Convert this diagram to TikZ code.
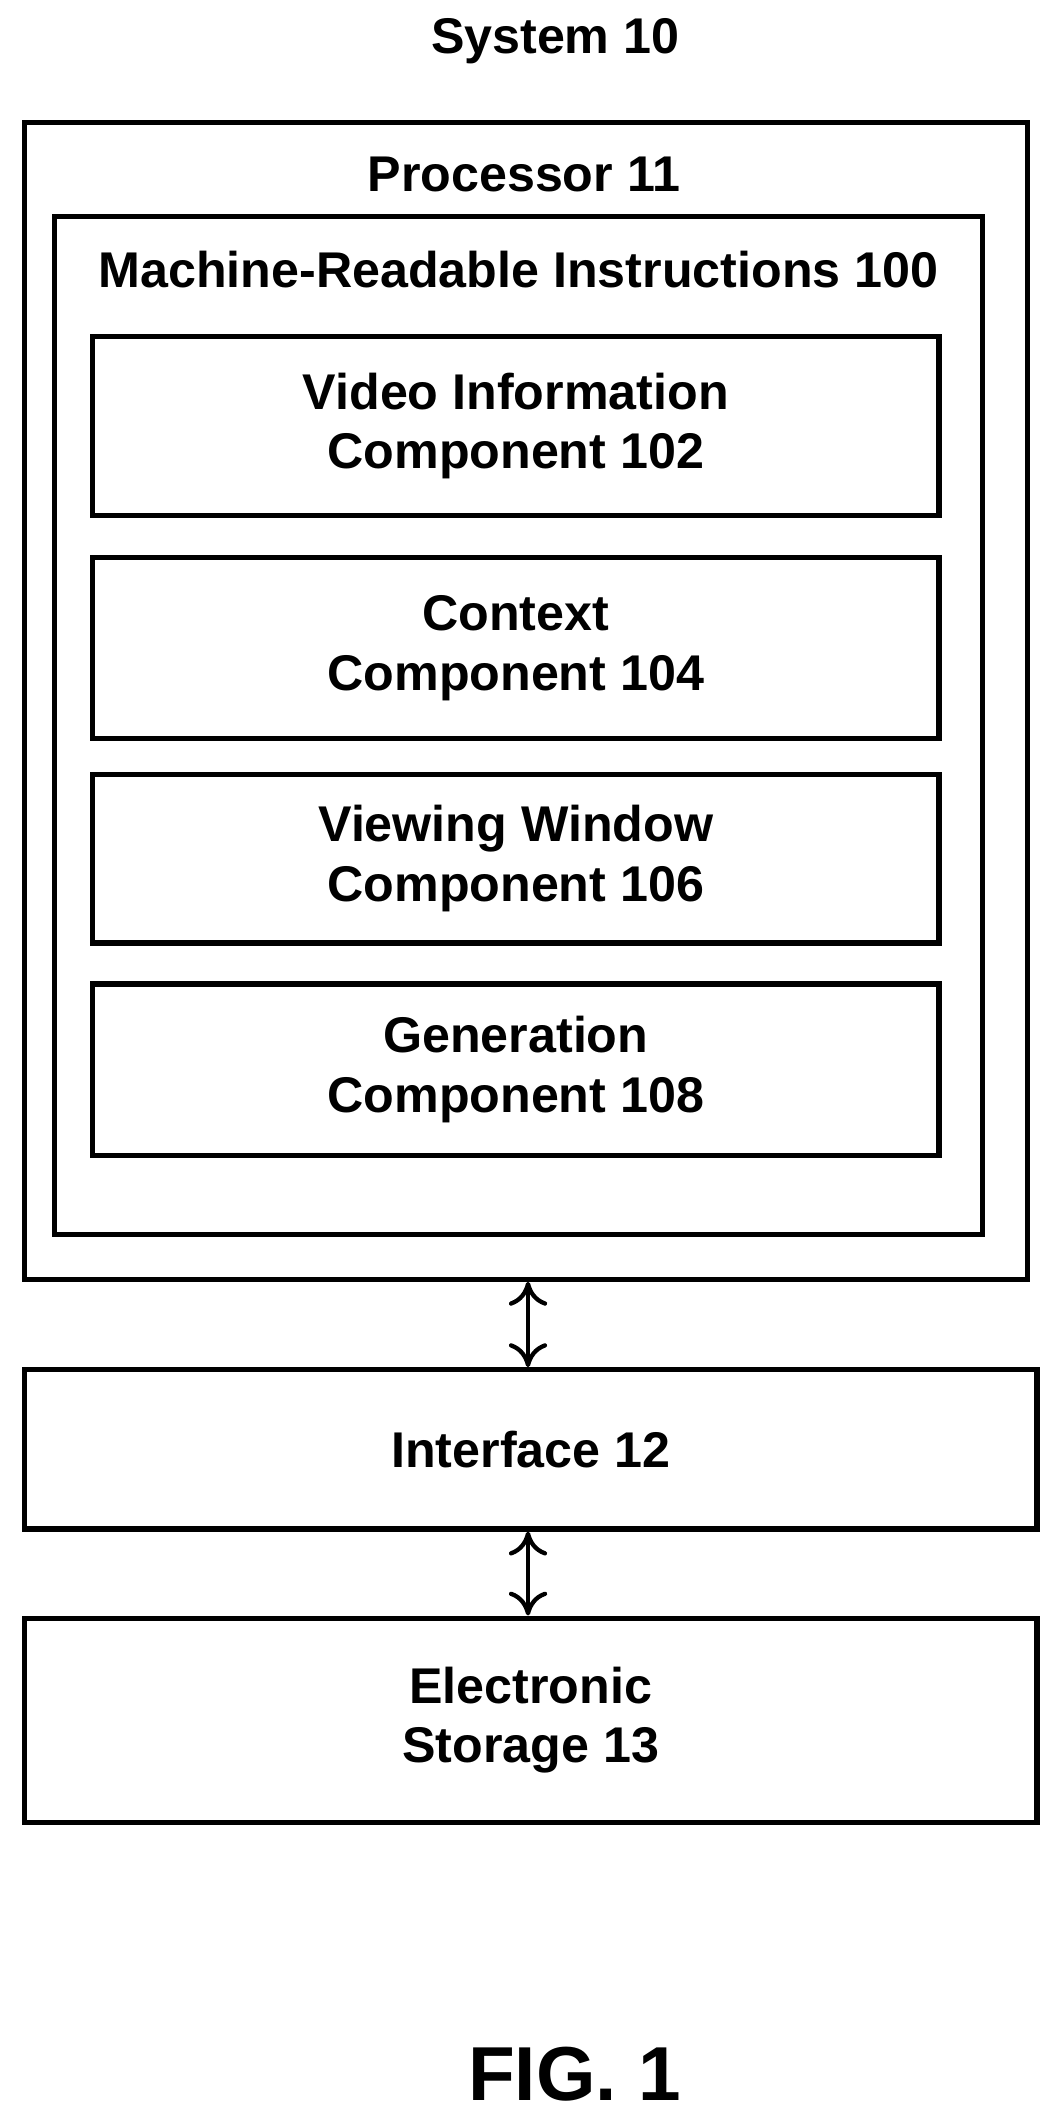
\documentclass[tikz,border=0pt]{standalone}
\usepackage{fontspec}
\setmainfont{Liberation Sans}
\usetikzlibrary{arrows.meta}
\tikzset{
  box/.style={draw, line width=2.2pt, inner sep=0pt, align=center},
  comp/.style={box, minimum width=12.44cm, font=\bfseries\fontsize{21}{25}\selectfont},
  lbl/.style={font=\bfseries\fontsize{21}{25}\selectfont},
  link/.style={line width=1.8pt, {To[length=10pt,width=16pt]}-{To[length=10pt,width=16pt]}}
}
\begin{document}
\begin{tikzpicture}[x=0.02cm,y=-0.02cm]
\useasboundingbox (0,0) rectangle (775,1560);
% outer frames
\node[box, minimum width=14.74cm, minimum height=17cm] (proc) at (386.5,515) {};
\node[box, minimum width=13.64cm, minimum height=14.96cm] (mri) at (381,533) {};
\node[lbl] (sys) at (408,30) {System 10};
\node[lbl] (ptitle) at (385,128) {Processor 11};
\node[lbl] (mtitle) at (381,198) {Machine-Readable Instructions 100};
% components
\node[comp, minimum height=2.64cm] (c102) at (379,313) {Video Information\\Component 102};
\node[comp, minimum height=2.66cm] (c104) at (379,476) {Context\\Component 104};
\node[comp, minimum height=2.48cm] (c106) at (379,631) {Viewing Window\\Component 106};
\node[comp, minimum height=2.52cm] (c108) at (379,786) {Generation\\Component 108};
% interface and storage
\node[comp, minimum width=14.88cm, minimum height=2.34cm] (intf) at (390,1065) {Interface 12};
\node[comp, minimum width=14.88cm, minimum height=3cm] (stor) at (390,1264) {Electronic\\Storage 13};
\draw[link] (proc.south -| 388,0) -- (intf.north -| 388,0);
\draw[link] (intf.south -| 388,0) -- (stor.north -| 388,0);
\node[font=\bfseries\fontsize{32}{38}\selectfont] (fig) at (422,1524) {FIG. 1};
\end{tikzpicture}
\end{document}
